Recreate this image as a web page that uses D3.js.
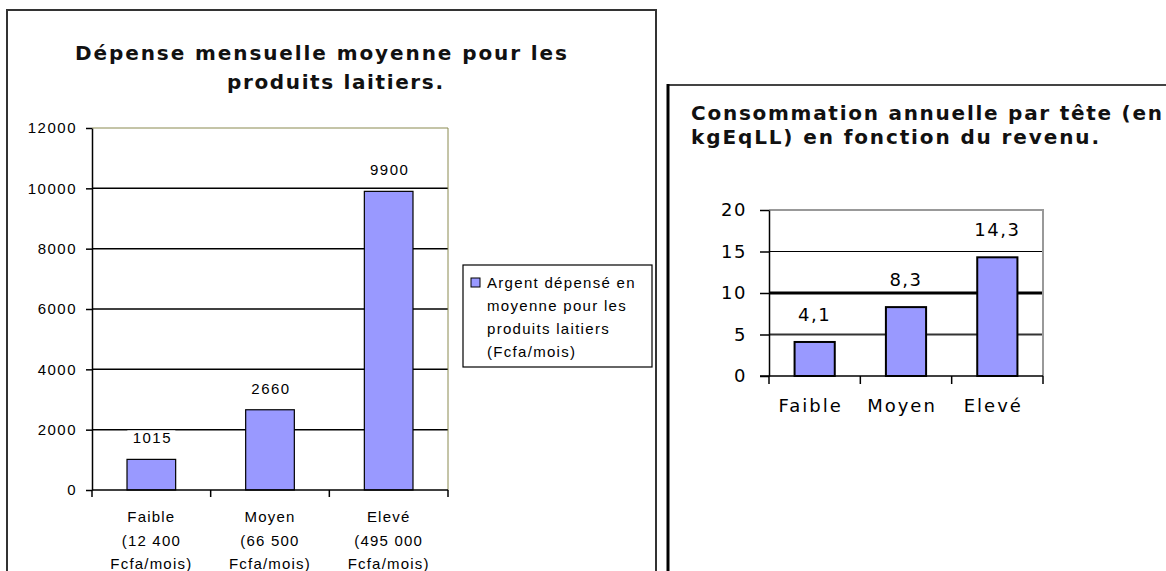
<!DOCTYPE html>
<html>
<head>
<meta charset="utf-8">
<script src="https://cdn.jsdelivr.net/npm/d3@7"></script>
<style>
  body { margin: 0; background: #fff; }
  svg { display: block; }
</style>
</head>
<body>
<div id="chart"></div>
<script>
// ---- data: left chart (monthly spending) ----
const spendCategories = ["Faible", "Moyen", "Elevé"];
const spendCatLines = [
  ["Faible", "(12  400", "Fcfa/mois)"],
  ["Moyen", "(66 500", "Fcfa/mois)"],
  ["Elevé", "(495 000", "Fcfa/mois)"]
];
const spendValues = [1015, 2660, 9900];
const spendTicks = [0, 2000, 4000, 6000, 8000, 10000, 12000];
const spendTitle = ["Dépense mensuelle moyenne pour les", "produits laitiers."];
const spendLegend = ["Argent dépensé en", "moyenne pour les", "produits laitiers", "(Fcfa/mois)"];

// ---- data: right chart (annual consumption per head) ----
const consoCategories = ["Faible", "Moyen", "Elevé"];
const consoValues = [4.1, 8.3, 14.3];
const consoTicks = [0, 5, 10, 15, 20];
const consoTitle = ["Consommation annuelle par tête (en", "kgEqLL) en fonction du revenu."];

const W = 1166, H = 571;
const BAR = "#9999ff";
const commaFmt = v => String(v).replace(".", ",");

const svg = d3.select("#chart").append("svg")
  .attr("width", W)
  .attr("height", H);

/* ================= left panel ================= */
const L = { left: 92, right: 448, top: 128, bottom: 490 };

// frame
svg.append("path")
  .attr("d", `M7,${H} V10 H656 V${H}`)
  .attr("fill", "none")
  .attr("stroke", "#333")
  .attr("stroke-width", 2);

// title (two lines, bold)
svg.append("g")
  .attr("font-family", "DejaVu Sans, Verdana, sans-serif")
  .attr("font-weight", "bold")
  .attr("font-size", 20)
  .attr("fill", "#111")
  .selectAll("text")
  .data(spendTitle)
  .join("text")
    .attr("x", (d, i) => i === 0 ? 75 : 227)
    .attr("y", (d, i) => i === 0 ? 60 : 89)
    .attr("textLength", (d, i) => i === 0 ? 492 : 216)
    .attr("lengthAdjust", "spacing")
    .text(d => d);

const xL = d3.scaleBand(spendCategories, [L.left, L.right]).padding(0);
const yL = d3.scaleLinear([0, 12000], [L.bottom, L.top]);
const barFracL = 0.41;

const leftFont = "Liberation Sans, Arial, sans-serif";

// grid lines
svg.append("g")
  .selectAll("line")
  .data(spendTicks.filter(t => t > 0 && t < 12000))
  .join("line")
    .attr("x1", L.left).attr("x2", L.right)
    .attr("y1", d => yL(d)).attr("y2", d => yL(d))
    .attr("stroke", "#000")
    .attr("stroke-width", 1.5);

// plot area top/right border (olive)
svg.append("path")
  .attr("d", `M${L.left},${yL(12000)} H${L.right} V${yL(0)}`)
  .attr("fill", "none")
  .attr("stroke", "#8a8a50")
  .attr("stroke-width", 1);

// bars
svg.append("g")
  .selectAll("rect")
  .data(spendValues)
  .join("rect")
    .attr("x", (d, i) => xL(spendCategories[i]) + xL.bandwidth() * (1 - barFracL) / 2)
    .attr("width", xL.bandwidth() * barFracL)
    .attr("y", d => yL(d))
    .attr("height", d => yL(0) - yL(d))
    .attr("fill", BAR)
    .attr("stroke", "#000")
    .attr("stroke-width", 1.2);

// value labels with white backing
const valL = svg.append("g")
  .attr("font-family", leftFont)
  .attr("font-size", 15)
  .attr("letter-spacing", 1.5)
  .selectAll("g")
  .data(spendValues)
  .join("g")
    .attr("transform", (d, i) =>
      `translate(${xL(spendCategories[i]) + xL.bandwidth() / 2},${yL(d) - 16})`);
valL.append("rect")
  .attr("x", -24).attr("y", -13)
  .attr("width", 48).attr("height", 17)
  .attr("fill", "#fff");
valL.append("text")
  .attr("text-anchor", "middle")
  .attr("dx", 1)
  .text(d => d);

// y axis
svg.append("g")
  .attr("transform", `translate(${L.left},0)`)
  .call(d3.axisLeft(yL).tickValues(spendTicks).tickSize(6).tickPadding(9).tickSizeOuter(0)
    .tickFormat(d3.format("d")))
  .call(g => g.select(".domain").attr("stroke", "#000").attr("stroke-width", 1.5))
  .call(g => g.selectAll(".tick line").attr("stroke", "#000").attr("stroke-width", 1.5))
  .call(g => g.selectAll(".tick text")
    .attr("font-family", leftFont)
    .attr("font-size", 15)
    .attr("letter-spacing", 1.5)
    .attr("fill", "#000"));

// x axis with ticks on the band boundaries
const xAxisL = svg.append("g").attr("transform", `translate(0,${L.bottom})`);
xAxisL.append("line")
  .attr("x1", L.left).attr("x2", L.right)
  .attr("stroke", "#000").attr("stroke-width", 1.5);
xAxisL.selectAll("line.bt")
  .data(spendCategories.map(c => xL(c)).concat(xL.range()[1]))
  .join("line")
    .attr("class", "bt")
    .attr("x1", d => d).attr("x2", d => d)
    .attr("y1", 0).attr("y2", 7)
    .attr("stroke", "#000").attr("stroke-width", 1.5);
xAxisL.selectAll("text")
  .data(spendCatLines)
  .join("text")
    .attr("font-family", leftFont)
    .attr("font-size", 15)
    .attr("letter-spacing", 1.2)
    .attr("text-anchor", "middle")
    .attr("transform", (d, i) => `translate(${xL(spendCategories[i]) + xL.bandwidth() / 2},0)`)
    .selectAll("tspan")
    .data(d => d)
    .join("tspan")
      .attr("x", 0)
      .attr("y", (d, j) => 32 + j * 23.5)
      .text(d => d);

// legend
const legL = svg.append("g").attr("transform", "translate(463,265)");
legL.append("rect")
  .attr("width", 189).attr("height", 102)
  .attr("fill", "#fff")
  .attr("stroke", "#000")
  .attr("stroke-width", 1.2);
legL.append("rect")
  .attr("x", 8).attr("y", 13)
  .attr("width", 9).attr("height", 9)
  .attr("fill", BAR)
  .attr("stroke", "#000")
  .attr("stroke-width", 1);
legL.append("text")
  .attr("font-family", leftFont)
  .attr("font-size", 15)
  .attr("letter-spacing", 1.3)
  .selectAll("tspan")
  .data(spendLegend)
  .join("tspan")
    .attr("x", 24)
    .attr("y", (d, i) => 23 + i * 23)
    .text(d => d);

/* ================= right panel ================= */
const R = { left: 769, right: 1043, top: 210, bottom: 376 };

// frame
svg.append("line")
  .attr("x1", 668).attr("x2", W).attr("y1", 85).attr("y2", 85)
  .attr("stroke", "#444").attr("stroke-width", 2);
svg.append("line")
  .attr("x1", 668).attr("x2", 668).attr("y1", 84).attr("y2", H)
  .attr("stroke", "#000").attr("stroke-width", 3);

const rightFont = "DejaVu Sans, Verdana, sans-serif";

svg.append("g")
  .attr("font-family", rightFont)
  .attr("font-weight", "bold")
  .attr("font-size", 20)
  .attr("fill", "#111")
  .selectAll("text")
  .data(consoTitle)
  .join("text")
    .attr("x", 691)
    .attr("y", (d, i) => 120 + i * 24)
    .attr("textLength", (d, i) => i === 0 ? 471 : 408)
    .attr("lengthAdjust", "spacing")
    .text(d => d);

const xR = d3.scaleBand(consoCategories, [R.left, R.right]).padding(0);
const yR = d3.scaleLinear([0, 20], [R.bottom, R.top]);
const barFracR = 0.44;

// grid lines (each drawn a little differently, as in the source)
const gridStyle = { 5: ["#333", 2], 10: ["#000", 3], 15: ["#000", 1.2] };
svg.append("g")
  .selectAll("line")
  .data(consoTicks.filter(t => t > 0 && t < 20))
  .join("line")
    .attr("x1", R.left).attr("x2", R.right)
    .attr("y1", d => yR(d)).attr("y2", d => yR(d))
    .attr("stroke", d => gridStyle[d][0])
    .attr("stroke-width", d => gridStyle[d][1]);

svg.append("path")
  .attr("d", `M${R.left},${yR(20)} H${R.right} V${yR(0)}`)
  .attr("fill", "none")
  .attr("stroke", "#999")
  .attr("stroke-width", 2);

svg.append("g")
  .selectAll("rect")
  .data(consoValues)
  .join("rect")
    .attr("x", (d, i) => xR(consoCategories[i]) + xR.bandwidth() * (1 - barFracR) / 2)
    .attr("width", xR.bandwidth() * barFracR)
    .attr("y", d => yR(d))
    .attr("height", d => yR(0) - yR(d))
    .attr("fill", BAR)
    .attr("stroke", "#000")
    .attr("stroke-width", 2);

svg.append("g")
  .attr("font-family", rightFont)
  .attr("font-size", 18)
  .attr("letter-spacing", 1.5)
  .attr("text-anchor", "middle")
  .selectAll("text")
  .data(consoValues)
  .join("text")
    .attr("x", (d, i) => xR(consoCategories[i]) + xR.bandwidth() / 2)
    .attr("y", d => yR(d) - 21)
    .text(d => commaFmt(d));

svg.append("g")
  .attr("transform", `translate(${R.left},0)`)
  .call(d3.axisLeft(yR).tickValues(consoTicks).tickSize(9).tickPadding(13).tickSizeOuter(0)
    .tickFormat(commaFmt))
  .call(g => g.select(".domain").attr("stroke", "#000").attr("stroke-width", 1.5))
  .call(g => g.selectAll(".tick line").attr("stroke", "#000").attr("stroke-width", 1.5))
  .call(g => g.selectAll(".tick text")
    .attr("font-family", rightFont)
    .attr("font-size", 18)
    .attr("letter-spacing", 1.5)
    .attr("fill", "#000"));

const xAxisR = svg.append("g").attr("transform", `translate(0,${R.bottom})`);
xAxisR.append("line")
  .attr("x1", R.left - 9).attr("x2", R.right)
  .attr("stroke", "#000").attr("stroke-width", 1.5);
xAxisR.selectAll("line.bt")
  .data(consoCategories.map(c => xR(c)).concat(xR.range()[1]))
  .join("line")
    .attr("class", "bt")
    .attr("x1", d => d).attr("x2", d => d)
    .attr("y1", 0).attr("y2", 8)
    .attr("stroke", "#000").attr("stroke-width", 1.5);
xAxisR.selectAll("text")
  .data(consoCategories)
  .join("text")
    .attr("font-family", rightFont)
    .attr("font-size", 18)
    .attr("letter-spacing", 2)
    .attr("text-anchor", "middle")
    .attr("x", d => xR(d) + xR.bandwidth() / 2 - 4)
    .attr("y", 36)
    .text(d => d);
</script>
</body>
</html>
